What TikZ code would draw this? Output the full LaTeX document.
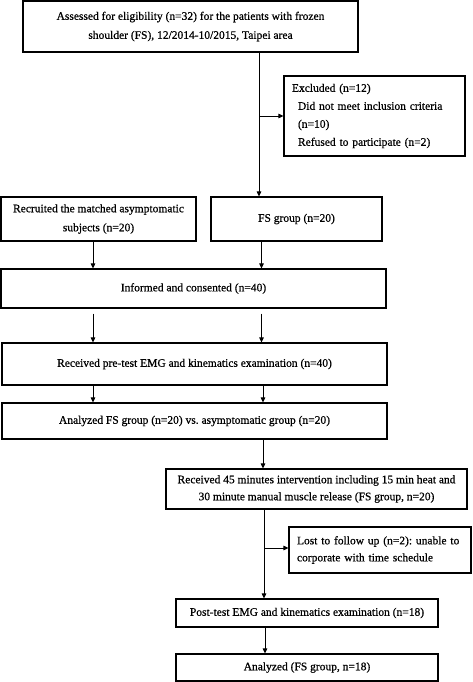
\documentclass[tikz,border=0pt]{standalone}
\usepackage{fontspec}
\setmainfont[FakeBold=0.6]{Liberation Serif}
\usetikzlibrary{arrows.meta,calc}
\begin{document}
\begin{tikzpicture}[x=1pt,y=-1pt,
  box/.style={draw=black,line width=1.1pt,inner sep=0pt,
    font=\fontsize{11.5}{19}\selectfont\frenchspacing},
  arr/.style={line width=0.9pt,-{Triangle[length=5pt,width=4.5pt]}},
  ln/.style={line width=0.9pt}]
\useasboundingbox (0,0) rectangle (473,682);
\node[box,minimum width=335pt,minimum height=51pt,align=center] (top) at (190.5,26.5)
  {Assessed for eligibility (n=32) for the patients with frozen\\shoulder (FS), 12/2014-10/2015, Taipei area};
\node[box,minimum width=181pt,minimum height=80pt,text width=165pt,align=left,font=\fontsize{11.5}{18}\selectfont\frenchspacing] (excl) at (374.5,116)
  {\mbox{Excluded (n=12)}\\\mbox{\hspace*{6pt}Did not meet inclusion criteria}\\\mbox{\hspace*{6pt}(n=10)}\\\mbox{\hspace*{6pt}Refused to participate (n=2)}};
\node[box,minimum width=195pt,minimum height=44pt,align=center] (recr) at (98.5,219)
  {Recruited the matched asymptomatic\\subjects (n=20)};
\node[box,minimum width=171pt,minimum height=44pt] (fs) at (296.5,219) {FS group (n=20)};
\node[box,minimum width=385pt,minimum height=39pt] (inf) at (193.5,288.5) {Informed and consented (n=40)};
\node[box,minimum width=385pt,minimum height=42pt] (pre) at (194.5,364) {Received pre-test EMG and kinematics examination (n=40)};
\node[box,minimum width=385pt,minimum height=36pt] (ana) at (194.5,421) {Analyzed FS group (n=20) vs. asymptomatic group (n=20)};
\node[box,minimum width=301pt,minimum height=40pt,align=center,font=\fontsize{11.5}{17}\selectfont\frenchspacing] (int) at (316.5,489)
  {Received 45 minutes intervention including 15 min heat and\\30 minute manual muscle release (FS group, n=20)};
\node[box,minimum width=182pt,minimum height=46pt,text width=166pt,align=left,font=\fontsize{11.5}{17}\selectfont\frenchspacing] (lost) at (380,550)
  {\mbox{Lost to follow up (n=2): unable to}\\\mbox{corporate with time schedule}};
\node[box,minimum width=262pt,minimum height=28pt] (post) at (307,613) {Post-test EMG and kinematics examination (n=18)};
\node[box,minimum width=262pt,minimum height=27pt] (fin) at (307,667.5) {Analyzed (FS group, n=18)};
% connectors
\coordinate (xa) at (259,0);
\coordinate (ya) at (0,116);
\draw[arr] (top.south -| xa) -- (fs.north -| xa);
\draw[arr] (xa |- ya) -- (excl.west |- ya);
\coordinate (xl) at (93,0);
\coordinate (xr) at (261.5,0);
\draw[arr] (recr.south -| xl) -- (inf.north -| xl);
\draw[arr] (fs.south -| xr) -- (inf.north -| xr);
\draw[arr,shorten <=5pt] (inf.south -| xl) -- (pre.north -| xl);
\draw[arr,shorten <=5pt] (inf.south -| xr) -- (pre.north -| xr);
\coordinate (xr2) at (263,0);
\draw[arr] (pre.south -| xl) -- (ana.north -| xl);
\draw[arr] (pre.south -| xr2) -- (ana.north -| xr2);
\draw[arr] (ana.south -| xr2) -- (int.north -| xr2);
\coordinate (xb) at (264,0);
\coordinate (yb) at (0,548);
\draw[arr] (int.south -| xb) -- (post.north -| xb);
\draw[arr] (xb |- yb) -- (lost.west |- yb);
\coordinate (xc) at (265,0);
\draw[arr] (post.south -| xc) -- (fin.north -| xc);
\end{tikzpicture}
\end{document}
